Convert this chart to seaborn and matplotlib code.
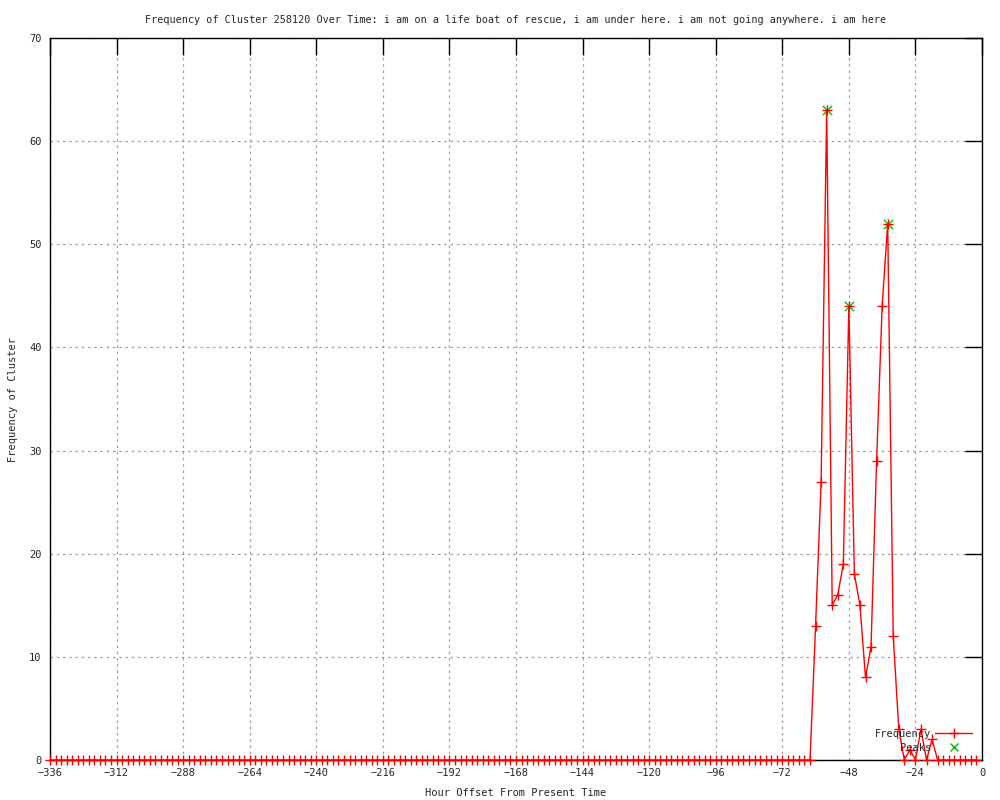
import matplotlib
matplotlib.use("Agg")
import matplotlib.pyplot as plt
import seaborn as sns
import pandas as pd
from matplotlib.lines import Line2D

# ---- data ----
hours = list(range(-336, 0, 2))
counts = [
    0, 0, 0, 0, 0, 0, 0, 0, 0, 0, 0, 0, 0, 0, 0, 0, 0, 0, 0, 0, 0, 0, 0,
    0, 0, 0, 0, 0, 0, 0, 0, 0, 0, 0, 0, 0, 0, 0, 0, 0, 0, 0, 0, 0, 0, 0,
    0, 0, 0, 0, 0, 0, 0, 0, 0, 0, 0, 0, 0, 0, 0, 0, 0, 0, 0, 0, 0, 0, 0,
    0, 0, 0, 0, 0, 0, 0, 0, 0, 0, 0, 0, 0, 0, 0, 0, 0, 0, 0, 0, 0, 0, 0,
    0, 0, 0, 0, 0, 0, 0, 0, 0, 0, 0, 0, 0, 0, 0, 0, 0, 0, 0, 0, 0, 0, 0,
    0, 0, 0, 0, 0, 0, 0, 0, 0, 0, 0, 0, 0, 0, 0, 0, 0, 0, 0, 0, 0, 0, 0,
    13, 27, 63, 15, 16, 19, 44, 18, 15, 8, 11, 29, 44, 52, 12,
    3, 0, 1, 0, 3, 0, 2, 0, 0, 0, 0, 0, 0, 0, 0,
]
peak_hours = [-56, -48, -34]
peak_counts = [63, 44, 52]

x_ticks = [-336, -312, -288, -264, -240, -216, -192, -168, -144, -120, -96, -72, -48, -24, 0]
y_ticks = [0, 10, 20, 30, 40, 50, 60, 70]

title = ("Frequency of Cluster 258120 Over Time: i am on a life boat of rescue, "
         "i am under here. i am not going anywhere. i am here")

df = pd.DataFrame({"hour": hours, "count": counts})
peaks = pd.DataFrame({"hour": peak_hours, "count": peak_counts})

sns.set_theme(style="white")
plt.rcParams["font.family"] = ["DejaVu Sans Mono"]
plt.rcParams["font.size"] = 7.5

FS = 7.5

fig = plt.figure(figsize=(10, 8), dpi=100)
ax = fig.add_axes([0.05, 0.05, 0.932, 0.9025])

sns.lineplot(data=df, x="hour", y="count", ax=ax, color="red", linewidth=1.0,
             marker="+", markersize=6.5, markeredgewidth=1.0, markeredgecolor="red",
             label="Frequency", legend=False, clip_on=False, zorder=4)
sns.scatterplot(data=peaks, x="hour", y="count", ax=ax, color="#00c000",
                marker="x", s=45, linewidth=1.0, label="Peaks", legend=False, zorder=3)

ax.set_xlim(-336, 0)
ax.set_ylim(0, 70)
ax.set_xticks(x_ticks)
ax.set_yticks(y_ticks)
ax.grid(True, color="#a0a0a0", linestyle=(0, (2, 3)), linewidth=0.9)
ax.tick_params(direction="in", length=12, width=1.0, color="black",
               top=True, right=True, labelsize=FS, pad=6)
for s in ax.spines.values():
    s.set_color("black")
    s.set_linewidth(1.0)

ax.set_xlabel("Hour Offset From Present Time", fontsize=FS, labelpad=7)
ax.set_ylabel("Frequency of Cluster", fontsize=FS, labelpad=8)
ax.set_title(title, fontsize=7.3, pad=11)

handles = [
    Line2D([], [], color="red", linewidth=1.0, marker="+", markersize=6.5),
    Line2D([], [], color="#00c000", linestyle="none", marker="x", markersize=6,
           markeredgewidth=1.0),
]
ax.legend(handles, ["Frequency", "Peaks"], loc="lower right",
          bbox_to_anchor=(0.997, 0.0), frameon=False, markerfirst=False,
          handlelength=3.5, handletextpad=0.4, labelspacing=0.35, fontsize=FS,
          borderaxespad=0.3)

fig.savefig("out.png", dpi=100)
